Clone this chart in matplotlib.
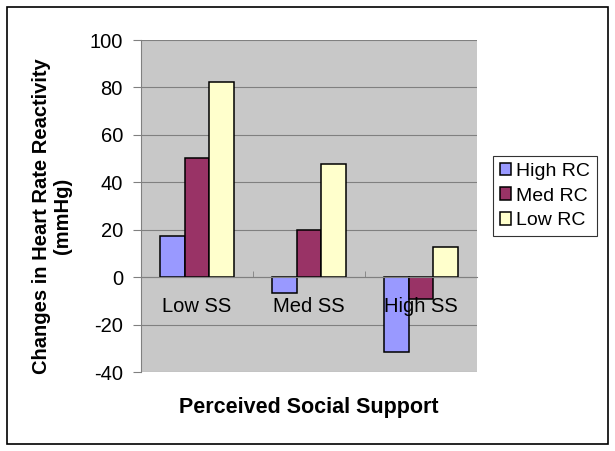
import matplotlib.pyplot as plt
import numpy as np
from matplotlib.patches import Rectangle

plt.rcParams['font.family'] = ['Liberation Sans', 'DejaVu Sans']
plt.rcParams['axes.unicode_minus'] = False

# data
categories = ["Low SS", "Med SS", "High SS"]
series = ["High RC", "Med RC", "Low RC"]
high_rc = [17.4, -6.7, -31.6]
med_rc = [50.2, 20.0, -9.1]
low_rc = [82.5, 47.6, 12.6]
colors = ["#9999FF", "#993366", "#FFFFCC"]

fig = plt.figure(figsize=(6.15, 4.51), dpi=100)
ax = fig.add_axes([141/615, 1-372/451, 336/615, 332/451])

# outer chart border
fig.patches.append(Rectangle((7/615, 1-444/451), 601/615, 437/451,
                             transform=fig.transFigure, fill=False,
                             edgecolor="black", linewidth=1.2))

ax.set_facecolor("#C8C8C8")
x = np.arange(len(categories))
w = 0.222
for i, vals in enumerate([high_rc, med_rc, low_rc]):
    ax.bar(x + (i-1)*w, vals, width=w, color=colors[i], edgecolor="black",
           linewidth=1.1, label=series[i], zorder=3)

ax.set_xlim(-0.5, 2.5)
ax.set_ylim(-40, 100)
ax.set_yticks(range(-40, 101, 20))
ax.yaxis.grid(True, color="#808080", linewidth=0.8, zorder=0)
ax.tick_params(axis='y', labelsize=14.5, length=6, color="#808080", pad=7)

# category axis crosses at zero
ax.spines['bottom'].set_position(('data', 0))
ax.spines['bottom'].set_color("#808080")
ax.spines['bottom'].set_zorder(4)
ax.spines['top'].set_visible(False)
ax.spines['right'].set_visible(False)
ax.spines['left'].set_color("#808080")
ax.set_xticks(x)
ax.set_xticklabels([])
ax.set_xticks([0.5, 1.5], minor=True)
ax.tick_params(axis='x', which='major', length=0)
ax.tick_params(axis='x', which='minor', length=4, color="#808080", direction='in')
for xi, cat in zip(x, categories):
    ax.annotate(cat, (xi, 0), xytext=(0, -21), textcoords="offset points",
                ha="center", va="center", fontsize=14.5, zorder=10)

fig.text(52/615, 1-216/451, "Changes in Heart Rate Reactivity\n(mmHg)",
         fontsize=14.5, fontweight="bold", rotation=90, ha="center",
         va="center", multialignment="center", linespacing=1.1)
fig.text(309/615, 1-407/451, "Perceived Social Support", fontsize=15.5,
         fontweight="bold", ha="center", va="center")

leg = fig.legend(loc="center", bbox_to_anchor=(545/615, 1-196/451),
                 fontsize=14, frameon=True, fancybox=False,
                 edgecolor="black", handlelength=0.6, handleheight=0.6,
                 handletextpad=0.25, borderpad=0.35, labelspacing=0.4,
                 borderaxespad=0)
leg.get_frame().set_linewidth(0.8)

fig.savefig("out.png", dpi=100)
